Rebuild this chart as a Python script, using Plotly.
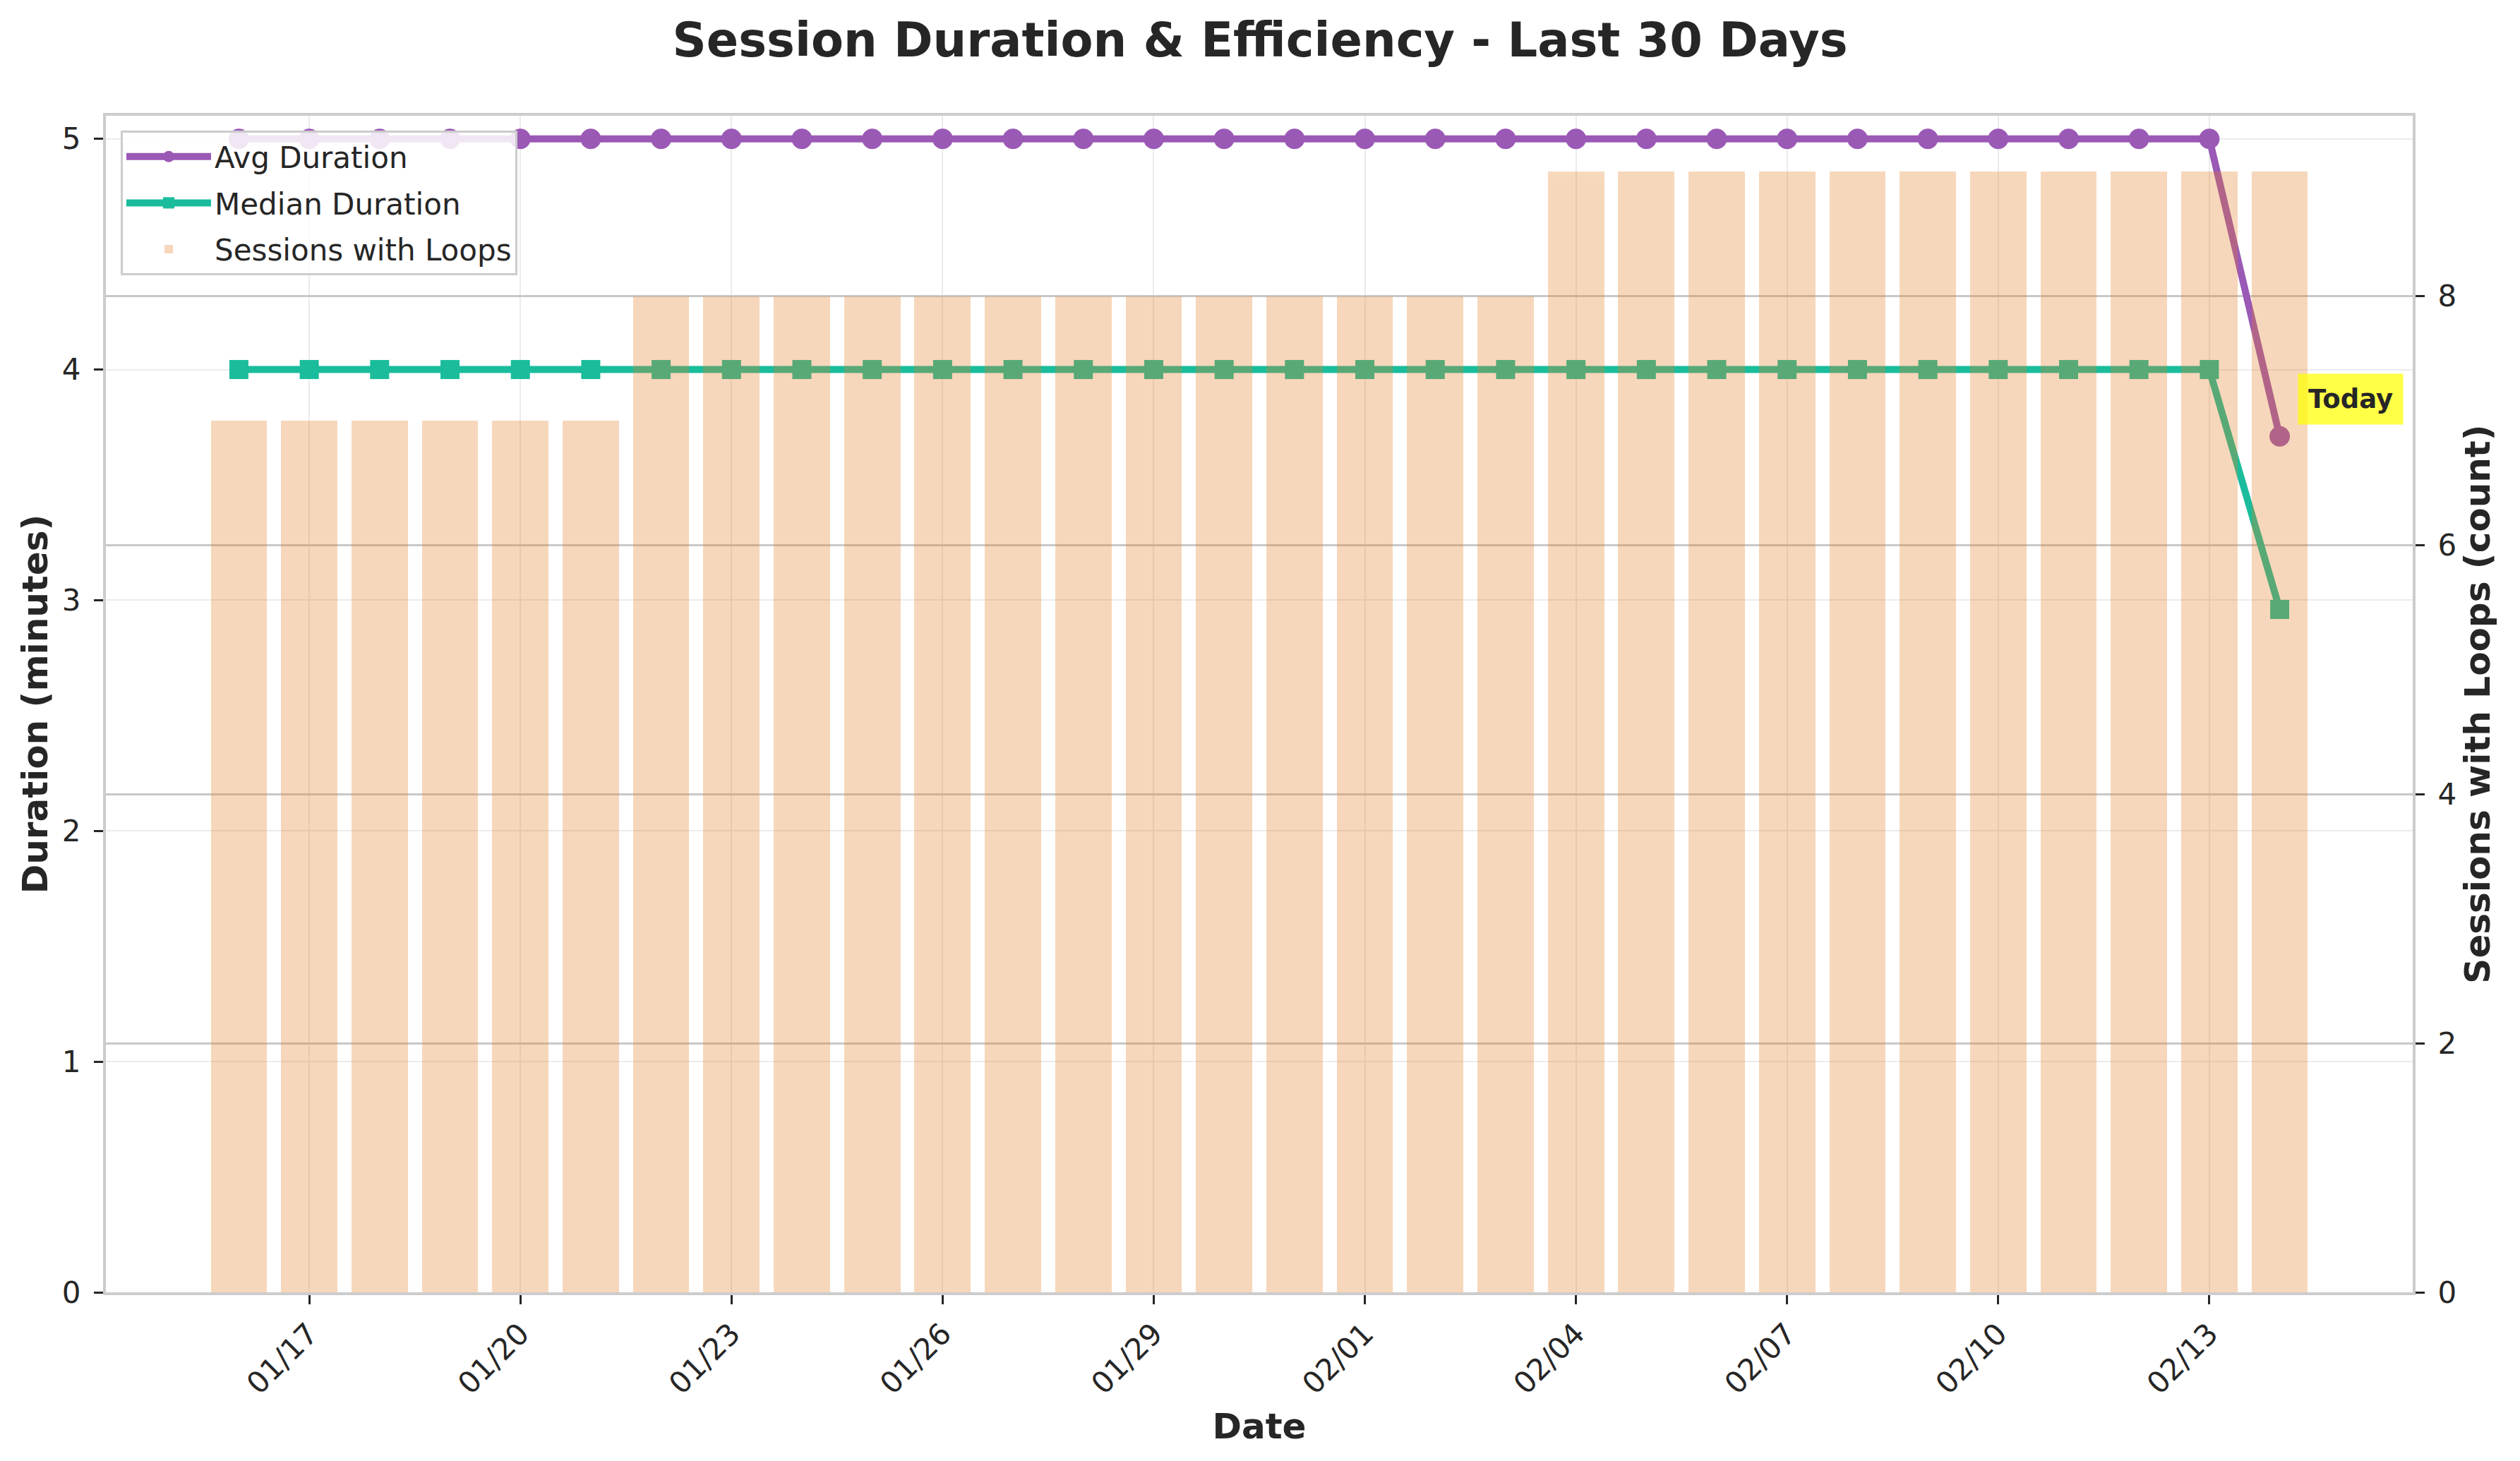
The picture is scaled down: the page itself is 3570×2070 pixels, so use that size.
import pandas as pd
import plotly.graph_objects as go
from plotly.subplots import make_subplots

# ---- data ----
dates = pd.date_range("2025-01-16", "2025-02-14", freq="D")
avg_duration = [5.0] * 29 + [3.71]
median_duration = [4.0] * 29 + [2.96]
sessions_with_loops = [7] * 6 + [8] * 13 + [9] * 11
tick_start = "2025-01-17"
today_label = "Today"

FONT = "DejaVu Sans"
TXT = "#262626"
DAY_MS = 86400000

# page body adds an 8px offset; compensate
OFF = 8
W, H = 3570 - OFF, 2070 - OFF

fig = make_subplots(specs=[[{"secondary_y": True}]])

fig.add_trace(go.Scatter(
    x=dates, y=avg_duration, name="Avg Duration", mode="lines+markers",
    legendgroup="a",
    line=dict(color="#9b59b6", width=10),
    marker=dict(symbol="circle", size=29, color="#9b59b6"),
), secondary_y=False)

fig.add_trace(go.Scatter(
    x=dates, y=median_duration, name="Median Duration", mode="lines+markers",
    legendgroup="b",
    line=dict(color="#1abc9c", width=10),
    marker=dict(symbol="square", size=27, color="#1abc9c"),
), secondary_y=False)

fig.add_trace(go.Bar(
    x=dates, y=sessions_with_loops, name="Sessions with Loops",
    legendgroup="c",
    marker=dict(color="#e67e22", line=dict(width=0)),
    opacity=0.3, width=0.8 * DAY_MS,
), secondary_y=True)

pad = pd.Timedelta(days=1.89)
x_range = [dates[0] - pad, dates[-1] + pad]

fig.add_annotation(
    x=dates[-1], y=avg_duration[-1], xref="x", yref="y",
    text="<b>" + today_label + "</b>", showarrow=False,
    xshift=100, yshift=53,
    font=dict(family=FONT, size=37, color=TXT),
    bgcolor="rgba(255,255,0,0.72)", borderpad=14,
)

axis_common = dict(
    showline=True, linecolor="#cccccc", linewidth=4,
    ticks="outside", ticklen=13, tickwidth=3, tickcolor="#262626",
    tickfont=dict(family=FONT, size=42, color=TXT),
    zeroline=False,
)

fig.update_xaxes(
    **axis_common, mirror=True, type="date", range=x_range, domain=[0, 1],
    tick0=tick_start, dtick=3 * DAY_MS, tickformat="%m/%d", tickangle=-45,
    showgrid=True, gridcolor="#ebebeb", gridwidth=2,
    title=dict(text="<b>Date</b>", font=dict(family=FONT, size=50, color=TXT), standoff=20),
)
fig.update_yaxes(
    **axis_common, mirror=True, range=[0, 5.1], dtick=1, tick0=0,
    showgrid=True, gridcolor="#ebebeb", gridwidth=2, ticklabelstandoff=10,
    title=dict(text="<b>Duration (minutes)</b>", font=dict(family=FONT, size=50, color=TXT), standoff=5),
    secondary_y=False,
)
fig.update_yaxes(
    **axis_common, range=[0, 9.45], dtick=2, tick0=0,
    showgrid=True, gridcolor="#c8c8c8", gridwidth=3, ticklabelstandoff=10,
    title=dict(text="<b>Sessions with Loops (count)</b>", font=dict(family=FONT, size=50, color=TXT), standoff=14),
    secondary_y=True,
)

fig.update_layout(
    width=W, height=H,
    margin=dict(l=150 - OFF, r=152, t=164 - OFF, b=239, autoexpand=False),
    paper_bgcolor="white", plot_bgcolor="white",
    font=dict(family=FONT, color=TXT),
    title=dict(text="<b>Session Duration & Efficiency - Last 30 Days</b>",
               x=(1785 - OFF) / W, xanchor="center", y=1 - (57 - OFF) / H, yanchor="middle",
               font=dict(family=FONT, size=67, color=TXT)),
    showlegend=True,
    legend=dict(x=21 / 3268, y=1 - 21 / 1667, xanchor="left", yanchor="top",
                bgcolor="rgba(255,255,255,0.85)", bordercolor="#cccccc", borderwidth=3,
                font=dict(family=FONT, size=42, color=TXT), itemwidth=120,
                traceorder="grouped", tracegroupgap=8),
    bargap=0,
)

fig.write_html("out.html")
